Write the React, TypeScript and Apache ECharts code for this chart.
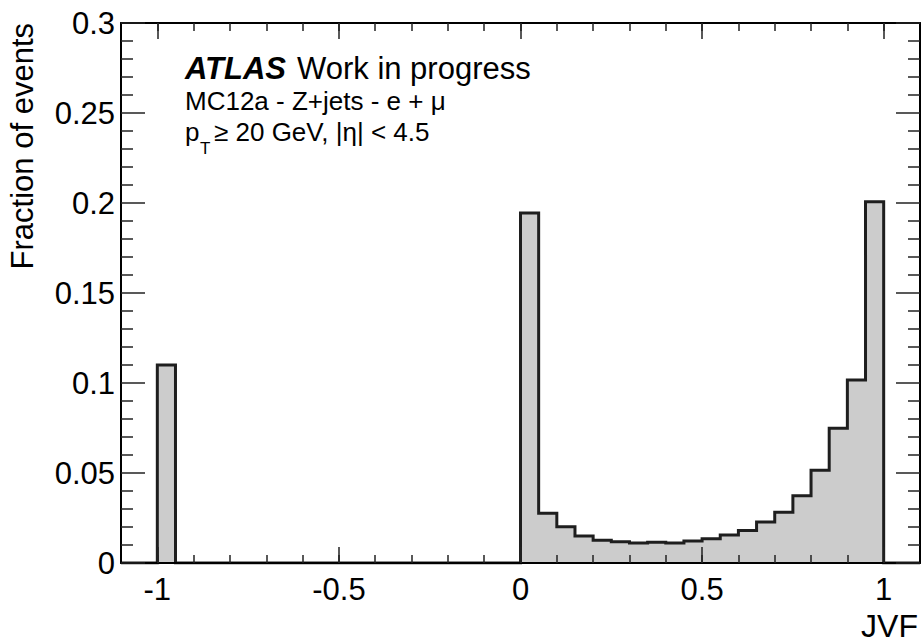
import React, { useEffect, useRef } from "react";
import * as echarts from "echarts";

// Histogram: JVF distribution (fraction of events per 0.05-wide bin)
const binWidth = 0.05;
const binLowEdges = [
  -1.0, 0.0, 0.05, 0.1, 0.15, 0.2, 0.25, 0.3, 0.35, 0.4, 0.45, 0.5, 0.55, 0.6,
  0.65, 0.7, 0.75, 0.8, 0.85, 0.9, 0.95,
];
const fractions = [
  0.11, 0.1944, 0.0276, 0.0202, 0.015, 0.0126, 0.0118, 0.0111, 0.0115, 0.0111,
  0.0122, 0.0135, 0.0156, 0.018, 0.0228, 0.0282, 0.0374, 0.0515, 0.0748,
  0.1017, 0.2007,
];

const xMin = -1.1;
const xMax = 1.1;
const yMin = 0;
const yMax = 0.3;
const yInterval = 0.05;
const xMajorTicks = [-1, -0.5, 0, 0.5, 1];
const xMinorTicks = [
  -1.0, -0.9, -0.8, -0.7, -0.6, -0.5, -0.4, -0.3, -0.2, -0.1, 0.0, 0.1, 0.2,
  0.3, 0.4, 0.5, 0.6, 0.7, 0.8, 0.9, 1.0,
];

const xTitle = "JVF";
const yTitle = "Fraction of events";
const atlasLabel = "ATLAS";
const atlasStatus = "Work in progress";
const sampleLine = "MC12a - Z+jets - e + \u03bc";
const cutMain = "p";
const cutSub = "T";
const cutRest = "\u2265 20 GeV, |\u03b7| < 4.5";

const FONT = '"Liberation Sans", Arial, Helvetica, sans-serif';

function buildOutline(): number[][] {
  const pts: number[][] = [[xMin, 0]];
  let prevHi = xMin;
  for (let i = 0; i < binLowEdges.length; i++) {
    const lo = binLowEdges[i];
    if (Math.abs(lo - prevHi) > 1e-9 && prevHi !== xMin) pts.push([prevHi, 0]);
    pts.push([lo, fractions[i]]);
    prevHi = lo + binWidth;
  }
  pts.push([prevHi, 0]);
  pts.push([xMax, 0]);
  return pts;
}

export default function App() {
  const ref = useRef<HTMLDivElement>(null);
  useEffect(() => {
    if (!ref.current) return;
    const chart = echarts.init(ref.current, null, { renderer: "svg" });
    const axisColor = "#000";
    const tickStyle = { color: "#222", width: 1.5 };
    const frameLine = {
      show: true,
      onZero: false,
      lineStyle: { color: axisColor, width: 2 },
    };
    const noLine = { show: false, onZero: false };
    const baseX = {
      type: "value" as const,
      min: xMin,
      max: xMax,
      splitLine: { show: false },
      z: 10,
    };
    const baseY = {
      type: "value" as const,
      min: yMin,
      max: yMax,
      interval: yInterval,
      splitLine: { show: false },
      z: 10,
    };
    chart.setOption({
      animation: false,
      backgroundColor: "#fff",
      grid: { left: 121, top: 23, width: 799, height: 540, containLabel: false },
      xAxis: [
        {
          ...baseX,
          position: "bottom",
          axisLine: frameLine,
          axisTick: {
            show: true,
            inside: true,
            length: 16,
            customValues: xMajorTicks,
            lineStyle: tickStyle,
          },
          axisLabel: {
            show: true,
            customValues: xMajorTicks,
            margin: 11,
            color: "#000",
            fontSize: 31,
            fontFamily: FONT,
          },
        },
        {
          ...baseX,
          position: "bottom",
          axisLine: noLine,
          axisTick: {
            show: true,
            inside: true,
            length: 8,
            customValues: xMinorTicks,
            lineStyle: tickStyle,
          },
          axisLabel: { show: false },
        },
        {
          ...baseX,
          position: "top",
          axisLine: frameLine,
          axisTick: {
            show: true,
            inside: true,
            length: 16,
            customValues: xMajorTicks,
            lineStyle: tickStyle,
          },
          axisLabel: { show: false },
        },
        {
          ...baseX,
          position: "top",
          axisLine: noLine,
          axisTick: {
            show: true,
            inside: true,
            length: 8,
            customValues: xMinorTicks,
            lineStyle: tickStyle,
          },
          axisLabel: { show: false },
        },
      ],
      yAxis: [
        {
          ...baseY,
          position: "left",
          axisLine: frameLine,
          axisTick: { show: true, inside: true, length: 24, lineStyle: tickStyle },
          minorTick: {
            show: true,
            splitNumber: 5,
            length: 12,
            lineStyle: tickStyle,
          },
          axisLabel: {
            show: true,
            margin: 6,
            color: "#000",
            fontSize: 31,
            fontFamily: FONT,
          },
        },
        {
          ...baseY,
          position: "right",
          axisLine: frameLine,
          axisTick: { show: true, inside: true, length: 24, lineStyle: tickStyle },
          minorTick: {
            show: true,
            splitNumber: 5,
            length: 12,
            lineStyle: tickStyle,
          },
          axisLabel: { show: false },
        },
      ],
      series: [
        {
          type: "line",
          name: "JVF",
          xAxisIndex: 0,
          yAxisIndex: 0,
          step: "end",
          data: buildOutline(),
          symbol: "none",
          lineStyle: { color: "#1e1e1e", width: 3, join: "miter" },
          areaStyle: { color: "#cccccc", opacity: 1 },
          z: 2,
        },
      ],
      graphic: [
        {
          type: "text",
          x: 185,
          y: 68,
          style: {
            text: atlasLabel,
            fontSize: 31,
            fontWeight: "bold",
            fontStyle: "italic",
            fontFamily: FONT,
            fill: "#000",
            verticalAlign: "middle",
          },
        },
        {
          type: "text",
          x: 297,
          y: 68,
          style: {
            text: atlasStatus,
            fontSize: 31,
            fontFamily: FONT,
            fill: "#000",
            verticalAlign: "middle",
          },
        },
        {
          type: "text",
          x: 185,
          y: 101,
          style: {
            text: sampleLine,
            fontSize: 26,
            fontFamily: FONT,
            fill: "#000",
            verticalAlign: "middle",
          },
        },
        {
          type: "text",
          x: 185,
          y: 132,
          style: {
            text: cutMain,
            fontSize: 26,
            fontFamily: FONT,
            fill: "#000",
            verticalAlign: "middle",
          },
        },
        {
          type: "text",
          x: 200,
          y: 148,
          style: {
            text: cutSub,
            fontSize: 17,
            fontFamily: FONT,
            fill: "#000",
            verticalAlign: "middle",
          },
        },
        {
          type: "text",
          x: 214,
          y: 132,
          style: {
            text: cutRest,
            fontSize: 26,
            fontFamily: FONT,
            fill: "#000",
            verticalAlign: "middle",
          },
        },
        {
          type: "text",
          x: 918,
          y: 626,
          style: {
            text: xTitle,
            fontSize: 32,
            fontFamily: FONT,
            fill: "#000",
            align: "right",
            verticalAlign: "middle",
          },
        },
        {
          type: "text",
          x: 22,
          y: 23,
          rotation: Math.PI / 2,
          style: {
            text: yTitle,
            fontSize: 31,
            fontFamily: FONT,
            fill: "#000",
            align: "right",
            verticalAlign: "middle",
          },
        },
      ],
    });
    return () => chart.dispose();
  }, []);
  return (
    <div
      ref={ref}
      style={{ position: "absolute", left: 0, top: 0, width: 922, height: 643 }}
    />
  );
}
